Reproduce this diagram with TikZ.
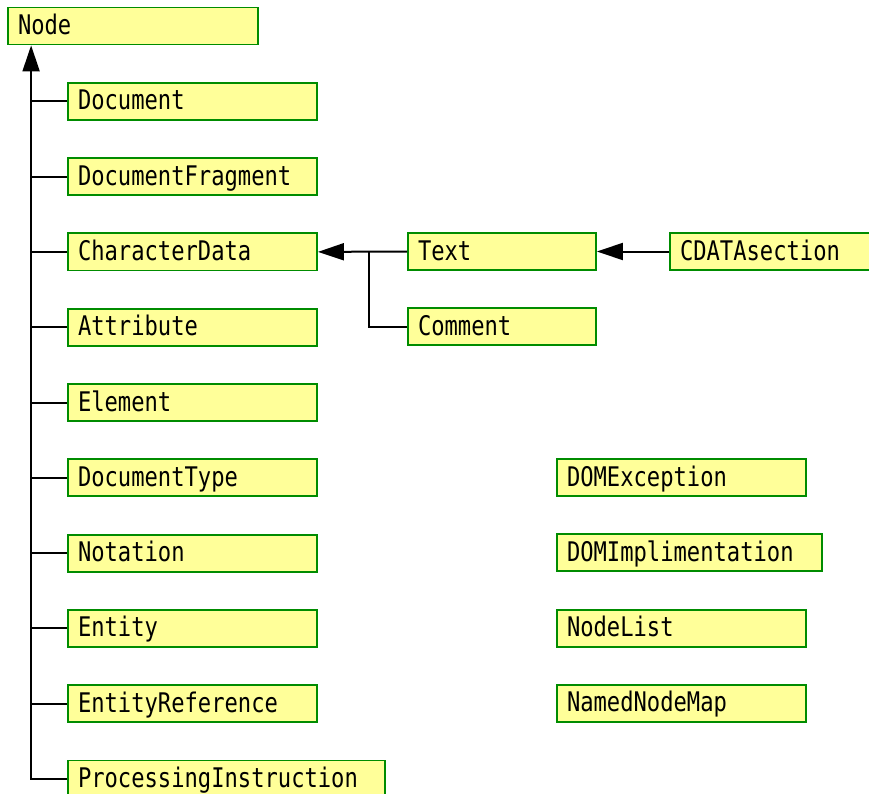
\documentclass[tikz,border=0pt]{standalone}
\usepackage{fontspec}
\setmonofont[FakeStretch=0.82]{DejaVu Sans Mono}
\usetikzlibrary{positioning, arrows.meta}
\definecolor{boxfill}{RGB}{255,255,153}
\definecolor{boxline}{RGB}{0,140,0}

\begin{document}
\begin{tikzpicture}[node distance=75.3pt, auto]

% Define styles
\tikzstyle{cls} = [rectangle, draw=boxline, fill=boxfill, line width=1.8pt, text width=#1, align=left, inner xsep=10pt, inner ysep=0pt, text height=20pt, text depth=3pt, minimum height=37pt, font=\ttfamily\fontsize{27}{29}\selectfont]
\tikzstyle{line} = [line width=2pt]
\tikzstyle{arrow} = [line width=2pt, -{Triangle[length=26pt, width=17pt]}]

\useasboundingbox (0pt,0pt) rectangle (869pt,-794pt);

% Root
\node [cls=230pt] (nodecls) at (133pt,-26pt) {Node};
\coordinate (trunk) at ([xshift=24pt]nodecls.south west);

% Subclasses of Node
\node [cls=229pt, below of=nodecls, xshift=59.5pt] (doc) {Document};
\node [cls=229pt, below of=doc] (frag) {DocumentFragment};
\node [cls=229pt, below of=frag] (chardata) {CharacterData};
\node [cls=229pt, below of=chardata] (attr) {Attribute};
\node [cls=229pt, below of=attr] (elem) {Element};
\node [cls=229pt, below of=elem] (doctype) {DocumentType};
\node [cls=229pt, below of=doctype] (notation) {Notation};
\node [cls=229pt, below of=notation] (entity) {Entity};
\node [cls=229pt, below of=entity] (entref) {EntityReference};
\node [cls=297pt, below of=entref, xshift=34pt] (procinst) {ProcessingInstruction};

% Subclasses of CharacterData
\node [cls=168pt] (text) at (502pt,-251.5pt) {Text};
\node [cls=168pt, below of=text] (comment) {Comment};
\node [cls=180pt] (cdata) at (770pt,-251.5pt) {CDATAsection};
\coordinate (join) at ([xshift=-38pt]text.west);

% Other interfaces
\node [cls=229pt] (domexc) at (681.5pt,-477.5pt) {DOMException};
\node [cls=245pt, below of=domexc, xshift=8pt] (domimpl) {DOMImplimentation};
\node [cls=229pt, below of=domexc, yshift=-75.3pt] (nodelist) {NodeList};
\node [cls=229pt, below of=nodelist] (nodemap) {NamedNodeMap};

% Arrows
\draw [arrow] (procinst.west) -| (trunk);
\foreach \n in {doc,frag,chardata,attr,elem,doctype,notation,entity,entref}
  \draw [line] (\n.west) -- (\n.west -| trunk);
\draw [arrow] (text.west) -- (chardata.east);
\draw [line] (join) |- (comment.west);
\draw [arrow] (cdata.west) -- (text.east);

\end{tikzpicture}
\end{document}
